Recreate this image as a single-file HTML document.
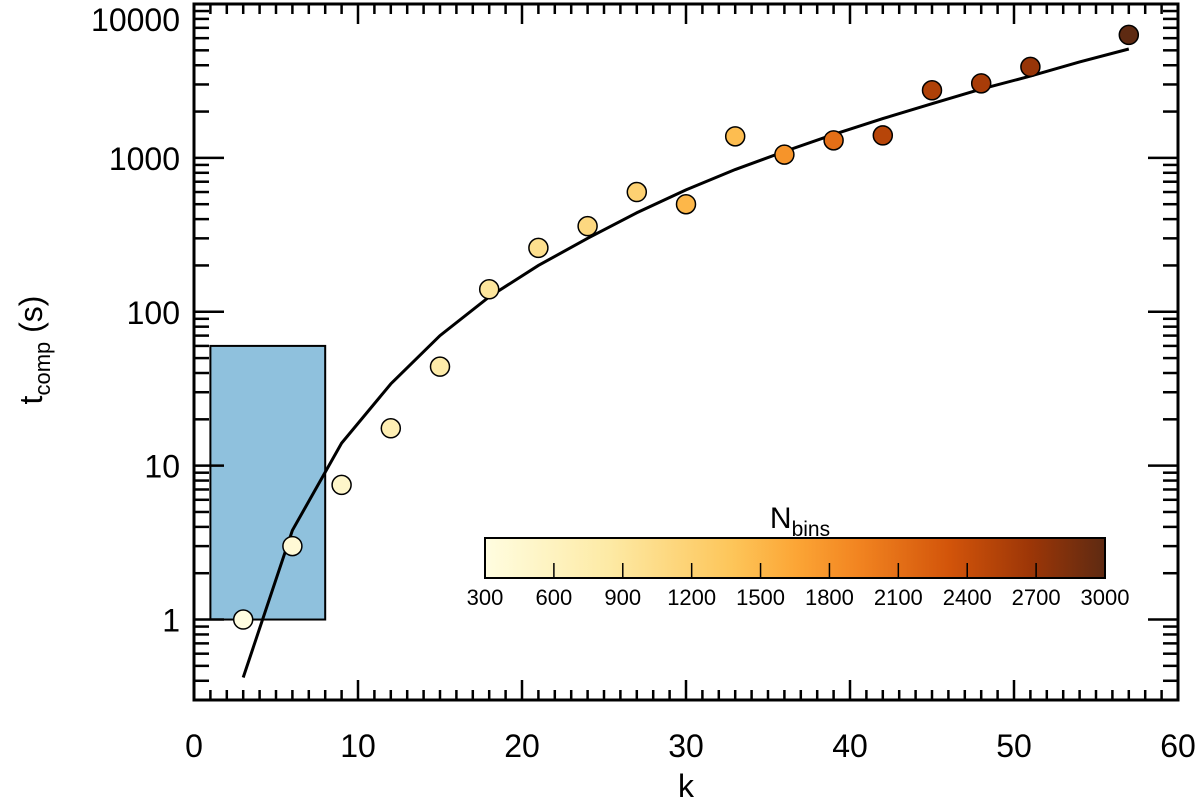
<!DOCTYPE html>
<html><head><meta charset="utf-8"><style>
body{margin:0;background:#fff}
svg{display:block;font-family:"Liberation Sans",sans-serif}
</style></head><body>
<svg id="chart" width="1200" height="803">
<defs><linearGradient id="cmap" x1="0" x2="1" y1="0" y2="0">
<stop offset="0" stop-color="#fffde0"/><stop offset="0.2" stop-color="#fdeaa5"/><stop offset="0.4" stop-color="#fdc559"/>
<stop offset="0.5" stop-color="#fca636"/><stop offset="0.6" stop-color="#f28521"/><stop offset="0.75" stop-color="#d2540a"/>
<stop offset="0.88" stop-color="#9c3607"/><stop offset="1" stop-color="#5e2a12"/></linearGradient></defs>
<g id="plot"></g>
</svg>
<script>
const kVals=[3,6,9,12,15,18,21,24,27,30,33,36,39,42,45,48,51,57];
const tVals=[1.0,3.0,7.5,17.5,44,140,260,360,600,500,1380,1050,1300,1400,2750,3050,3900,6300];
const nbins=[300,400,500,700,800,900,1000,1100,1200,1500,1450,1800,2100,2500,2550,2600,2700,3000];
const fitK=[3,6,9,12,15,18,21,24,27,30,33,36,39,42,45,48,51,54,57];
const fitT=[0.42,3.8,14,34,70,125,200,300,440,620,840,1100,1420,1800,2250,2800,3400,4200,5100];
const xTicks=[0,10,20,30,40,50,60];
const yTicks=[1,10,100,1000,10000];
const cbTicks=[300,600,900,1200,1500,1800,2100,2400,2700,3000];
const L=194,R=1178,T=4,B=700,ymin=0.3,ymax=10000;
const X=k=>L+(k-0)/60*(R-L);
const Y=v=>B-(Math.log10(v)-Math.log10(ymin))/(Math.log10(ymax)-Math.log10(ymin))*(B-T);
const NS='http://www.w3.org/2000/svg';
const g=document.getElementById('plot');
function mk(t,a,p){const e=document.createElementNS(NS,t);for(const k in a)e.setAttribute(k,a[k]);(p||g).appendChild(e);return e;}
const stops=[[0,[255,253,224]],[0.2,[253,234,165]],[0.4,[253,197,89]],[0.5,[252,166,54]],[0.6,[242,133,33]],[0.75,[210,84,10]],[0.88,[156,54,7]],[1,[94,42,18]]];
function cmap(n){let f=(n-300)/2700;f=Math.max(0,Math.min(1,f));for(let i=1;i<stops.length;i++){if(f<=stops[i][0]){const a=stops[i-1],b=stops[i],u=(f-a[0])/(b[0]-a[0]);return 'rgb('+a[1].map((c,j)=>Math.round(c+(b[1][j]-c)*u)).join(',')+')';}}return 'rgb(94,42,18)';}
let e=mk('rect',{x:X(1),y:Y(60),width:X(8)-X(1),height:Y(1)-Y(60),fill:'#8fc1dd',stroke:'#000','stroke-width':2});

for(let k=0;k<=60;k++){const maj=k%10==0,len=maj?20:10;
mk('line',{x1:X(k),x2:X(k),y1:B,y2:B-len,stroke:'#000','stroke-width':2.5});
mk('line',{x1:X(k),x2:X(k),y1:T,y2:T+len,stroke:'#000','stroke-width':2.5});}
for(let d=-1;d<4;d++)for(let m=1;m<10;m++){const v=m*Math.pow(10,d);if(v<ymin||v>ymax)continue;const len=m==1?30:15;
mk('line',{x1:L,x2:L+len,y1:Y(v),y2:Y(v),stroke:'#000','stroke-width':2.5});
mk('line',{x1:R,x2:R-len,y1:Y(v),y2:Y(v),stroke:'#000','stroke-width':2.5});}
e=mk('rect',{x:L,y:T,width:R-L,height:B-T,fill:'none',stroke:'#000','stroke-width':3});

xTicks.forEach(k=>{e=mk('text',{x:X(k),y:757,'text-anchor':'middle','font-size':32});e.textContent=k;
});
yTicks.forEach(v=>{e=mk('text',{x:180,y:Math.max(Y(v)+12,31),'text-anchor':'end','font-size':32});e.textContent=v;
});
e=mk('text',{x:686,y:797,'text-anchor':'middle','font-size':32});e.textContent='k';

e=mk('text',{transform:'translate(42,350) rotate(-90)','text-anchor':'middle','font-size':32});
e.innerHTML='t<tspan font-size="22" dy="8">comp</tspan><tspan dy="-8"> (s)</tspan>';

e=mk('polyline',{points:fitK.map((k,i)=>X(k)+','+Y(fitT[i])).join(' '),fill:'none',stroke:'#000','stroke-width':3});

kVals.forEach((k,i)=>{e=mk('circle',{cx:X(k),cy:Y(tVals[i]),r:9.5,fill:cmap(nbins[i]),stroke:'#000','stroke-width':1.5});
});
const cx0=485,cx1=1105,cy0=538,cy1=578;
e=mk('rect',{x:cx0,y:cy0,width:cx1-cx0,height:cy1-cy0,fill:'url(#cmap)',stroke:'#000','stroke-width':2});

const CX=n=>cx0+(n-300)/2700*(cx1-cx0);
cbTicks.forEach((n,i)=>{if(i>0&&i<cbTicks.length-1)mk('line',{x1:CX(n),x2:CX(n),y1:cy1,y2:cy1-15,stroke:'#000','stroke-width':1.5});
e=mk('text',{x:CX(n),y:605,'text-anchor':'middle','font-size':22});e.textContent=n;
});
e=mk('text',{x:800,y:528,'text-anchor':'middle','font-size':30});
e.innerHTML='N<tspan font-size="21" dy="8">bins</tspan>';

</script>
</body></html>
